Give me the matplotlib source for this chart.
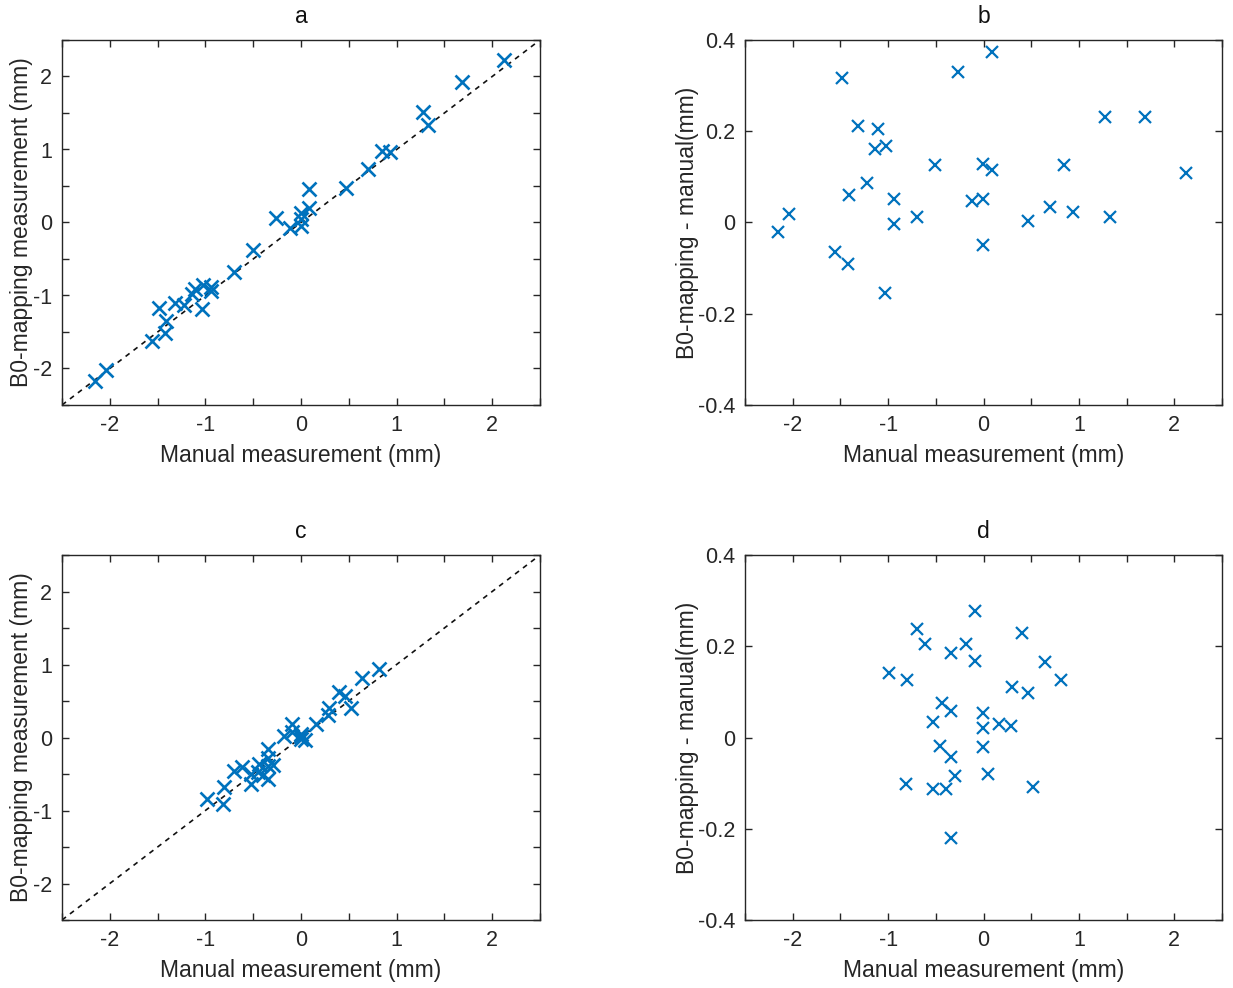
import matplotlib
matplotlib.use("Agg")
import matplotlib.pyplot as plt
from matplotlib.ticker import MultipleLocator, FuncFormatter, FixedLocator

plt.rcParams['font.family'] = ['Liberation Sans', 'DejaVu Sans']
plt.rcParams['axes.unicode_minus'] = False

# Panel a / b data (manual measurement, B0-mapping measurement, difference)
manual_ab = [-2.157, -2.042, -1.487, -1.556, -1.313, -1.407, -1.425, -1.222, -1.111, -1.142,
             -1.023, -1.033, -0.939, -0.939, -0.696, -0.507, -0.264, -0.120, -0.005, -0.005,
             0.086, -0.005, 0.086, 0.469, 0.696, 0.849, 0.936, 1.278, 1.326, 1.689, 2.121]
b0_a = [-2.178, -2.024, -1.170, -1.620, -1.101, -1.346, -1.517, -1.135, -0.905, -0.980,
        -0.855, -1.188, -0.888, -0.942, -0.683, -0.382, 0.066, -0.072, 0.046, 0.124,
        0.202, -0.054, 0.459, 0.473, 0.731, 0.974, 0.959, 1.509, 1.338, 1.920, 2.230]
diff_b = [-0.021, 0.018, 0.317, -0.064, 0.212, 0.061, -0.092, 0.087, 0.206, 0.162,
          0.168, -0.155, 0.051, -0.003, 0.013, 0.125, 0.330, 0.048, 0.051, 0.129,
          0.116, -0.049, 0.373, 0.004, 0.035, 0.125, 0.023, 0.231, 0.012, 0.231, 0.109]

# Panel c / d data
manual_cd = [-0.089, -0.699, 0.400, -0.612, -0.343, -0.180, -0.089, 0.643, -0.988, -0.803,
             0.814, 0.295, 0.465, -0.437, -0.343, -0.528, -0.005, -0.005, 0.162, 0.285,
             -0.455, -0.343, -0.005, -0.298, 0.047, -0.814, -0.525, -0.395, 0.518, -0.343]
b0_c = [0.189, -0.462, 0.629, -0.408, -0.158, 0.024, 0.079, 0.809, -0.847, -0.678,
        0.939, 0.406, 0.562, -0.362, -0.286, -0.494, 0.049, 0.015, 0.191, 0.311,
        -0.474, -0.386, -0.026, -0.382, -0.033, -0.916, -0.638, -0.508, 0.409, -0.563]
diff_d = [0.278, 0.237, 0.229, 0.204, 0.185, 0.204, 0.168, 0.166, 0.141, 0.125,
          0.125, 0.111, 0.097, 0.075, 0.057, 0.034, 0.054, 0.020, 0.029, 0.026,
          -0.019, -0.043, -0.021, -0.084, -0.080, -0.102, -0.113, -0.113, -0.109, -0.220]

titles = ['a', 'b', 'c', 'd']
xlabel = 'Manual measurement (mm)'
ylabel_meas = 'B0-mapping measurement (mm)'
ylabel_diff = 'B0-mapping - manual(mm)'
identity = [-2.5, 2.5]

blue = '#0072BD'
axcol = '#262626'
fs = 15.5

W, H = 1233, 988
fig = plt.figure(figsize=(W / 100, H / 100), dpi=100)

def pos(l, t, r, b):
    return [l / W, 1 - b / H, (r - l) / W, (b - t) / H]

axa = fig.add_axes(pos(62, 40, 540, 405))
axb = fig.add_axes(pos(745, 40, 1222, 405))
axc = fig.add_axes(pos(62, 555, 540, 920))
axd = fig.add_axes(pos(745, 555, 1222, 920))

def int_label(v, p):
    if abs(v - round(v)) < 1e-6:
        return '%d' % round(v)
    return ''

def style(ax, title, ylabel, diff):
    ax.set_xlim(-2.5, 2.5)
    ax.xaxis.set_major_locator(MultipleLocator(0.5))
    ax.xaxis.set_major_formatter(FuncFormatter(int_label))
    if diff:
        ax.set_ylim(-0.4, 0.4)
        ax.yaxis.set_major_locator(FixedLocator([-0.4, -0.2, 0, 0.2, 0.4]))
        ax.yaxis.set_major_formatter(FuncFormatter(lambda v, p: '0' if abs(v) < 1e-9 else ('%.1f' % v)))
    else:
        ax.set_ylim(-2.5, 2.5)
        ax.yaxis.set_major_locator(MultipleLocator(0.5))
        ax.yaxis.set_major_formatter(FuncFormatter(int_label))
    ax.tick_params(direction='in', top=True, right=True, length=5, width=1.0,
                   colors=axcol, labelsize=fs, pad=7)
    for s in ax.spines.values():
        s.set_color(axcol)
        s.set_linewidth(1.0)
    ax.set_title(title, fontsize=fs + 1, color='#111111', pad=12)
    ax.set_xlabel(xlabel, fontsize=fs + 1, color=axcol, labelpad=6)
    ax.set_ylabel(ylabel, fontsize=fs + 1, color=axcol, labelpad=0 if not diff else -1)

for ax, xs, ys in [(axa, manual_ab, b0_a), (axc, manual_cd, b0_c)]:
    ax.plot(identity, identity, linestyle=(0, (3, 3)), color='#111111', linewidth=1.2, zorder=1)
    ax.plot(xs, ys, linestyle='none', marker='x', color=blue, markersize=10.5, mew=1.9, zorder=2)

for ax, xs, ys in [(axb, manual_ab, diff_b), (axd, manual_cd, diff_d)]:
    ax.plot(xs, ys, linestyle='none', marker='x', color=blue, markersize=8.5, mew=1.6, zorder=2)

style(axa, titles[0], ylabel_meas, False)
style(axb, titles[1], ylabel_diff, True)
style(axc, titles[2], ylabel_meas, False)
style(axd, titles[3], ylabel_diff, True)

fig.savefig('out.png', dpi=100, facecolor='white')
